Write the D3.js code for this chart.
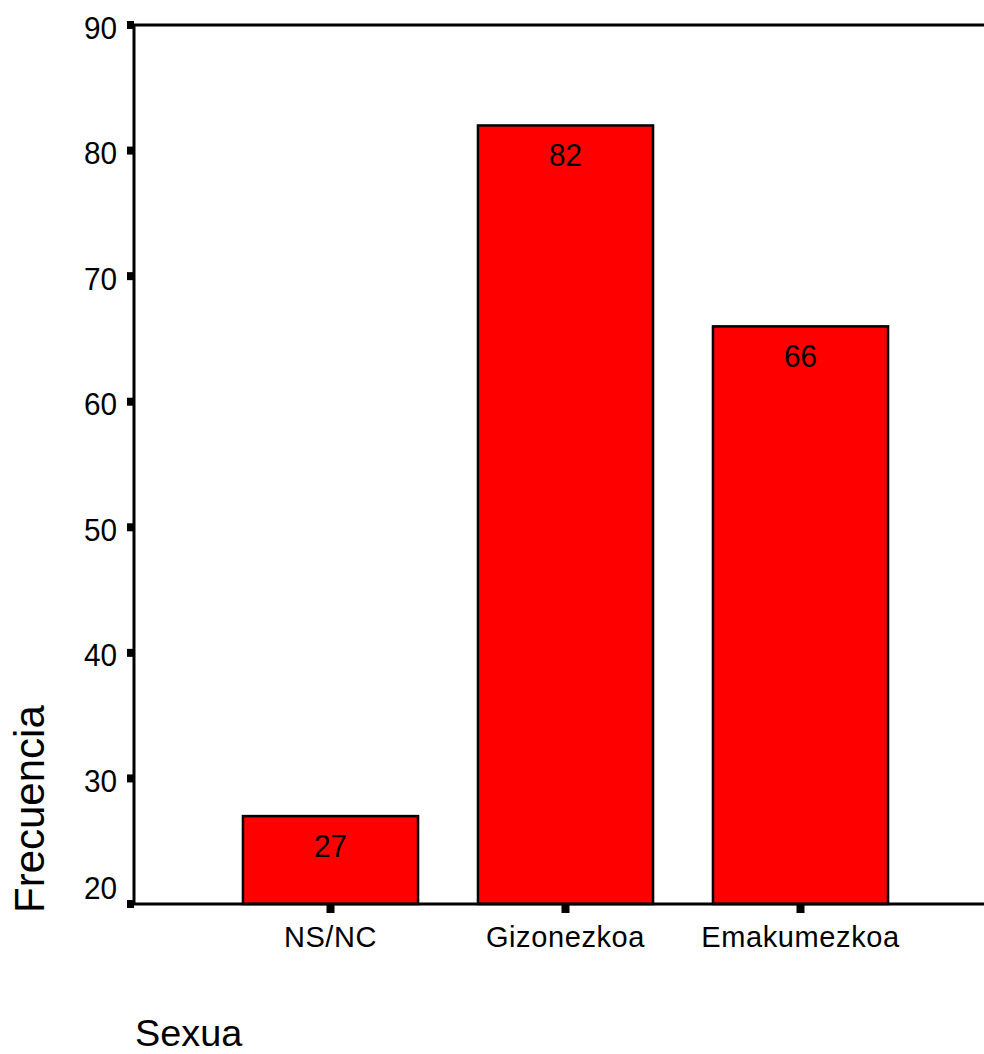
<!DOCTYPE html>
<html><head><meta charset="utf-8">
<script src="https://cdn.jsdelivr.net/npm/d3@7"></script>
<style>body{margin:0;background:#fff}svg{display:block}text{font-family:"Liberation Sans",Arial,sans-serif;fill:#000}</style>
</head><body>
<script>
const categories = ["NS/NC", "Gizonezkoa", "Emakumezkoa"];
const values = [27, 82, 66];
const yTicks = [20, 30, 40, 50, 60, 70, 80, 90];
const xTitle = "Sexua";
const yTitle = "Frecuencia";

const W = 984, H = 1054;
const svg = d3.select("body").append("svg").attr("width", W).attr("height", H);
const mLeft = 134, mRight = 984, mTop = 25, mBottom = 904;

const y = d3.scaleLinear().domain([20, 90]).range([mBottom, mTop]);
const x = d3.scaleBand().domain(categories).range([213, 918]).paddingInner(0.255).paddingOuter(0.1275);

// frame line
svg.append("line").attr("x1", mLeft).attr("x2", mRight).attr("y1", mTop).attr("y2", mTop).attr("stroke", "#000").attr("stroke-width", 3);

// bars
svg.selectAll("rect.bar").data(values).enter().append("rect")
  .attr("x", (d, i) => x(categories[i]))
  .attr("width", x.bandwidth())
  .attr("y", d => y(d))
  .attr("height", d => y(20) - y(d))
  .attr("fill", "#ff0000").attr("stroke", "#000").attr("stroke-width", 2.5);

// value labels
svg.selectAll("text.val").data(values).enter().append("text")
  .attr("transform", (d, i) => `translate(${x(categories[i]) + x.bandwidth() / 2},${y(d) + 41}) scale(0.93,1)`)
  .attr("text-anchor", "middle").attr("font-size", 32)
  .text(d => d);

// axes lines
svg.append("line").attr("x1", mLeft).attr("x2", mLeft).attr("y1", mTop).attr("y2", mBottom).attr("stroke", "#000").attr("stroke-width", 3);
svg.append("line").attr("x1", mLeft).attr("x2", mRight).attr("y1", mBottom).attr("y2", mBottom).attr("stroke", "#000").attr("stroke-width", 3);

// y ticks
const yg = svg.append("g");
yTicks.forEach(t => {
  yg.append("rect").attr("x", mLeft - 7).attr("y", y(t) - 4).attr("width", 7).attr("height", 8).attr("fill", "#000");
  const dy = t === 20 ? -5 : 13.5;
  yg.append("text").attr("transform", `translate(117,${y(t) + dy}) scale(0.93,1)`)
    .attr("text-anchor", "end").attr("font-size", 32).text(t);
});

// x ticks
categories.forEach(c => {
  const cx = x(c) + x.bandwidth() / 2;
  svg.append("rect").attr("x", cx - 4).attr("y", mBottom + 1).attr("width", 8).attr("height", 8).attr("fill", "#000");
  svg.append("text").attr("x", cx).attr("y", 947).attr("text-anchor", "middle").attr("font-size", 29)
    .attr("letter-spacing", 0.6).text(c);
});

// titles
svg.append("text").attr("transform", "translate(135,1046) scale(1.05,1)").attr("font-size", 36).text(xTitle);
svg.append("text").attr("transform", "translate(44,913) rotate(-90)").attr("font-size", 42).text(yTitle);
</script>
</body></html>
